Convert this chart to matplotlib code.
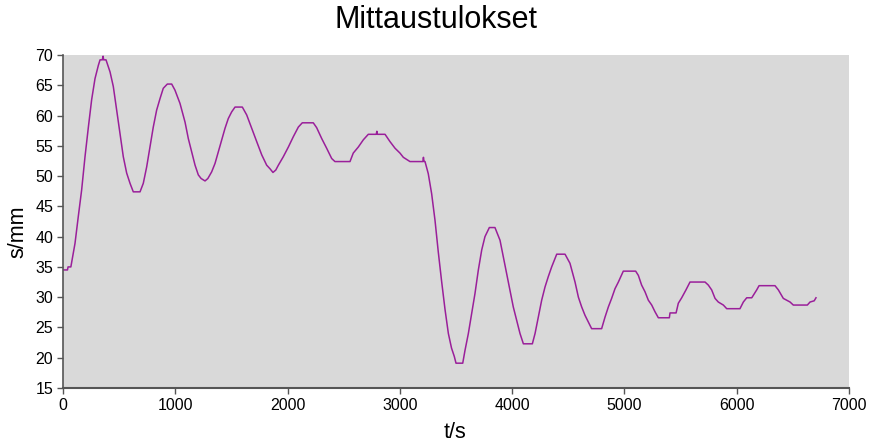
import matplotlib
matplotlib.use("Agg")
import matplotlib.pyplot as plt

plt.rcParams['font.family'] = ['Liberation Sans', 'DejaVu Sans']

t_s = [0, 40, 45, 70, 107, 136, 166, 196, 226, 255, 285, 315, 330, 350, 357, 362, 383,
       419, 448, 478, 508, 537, 567, 597, 626, 686, 715, 745, 775, 804, 834, 864, 893,
       929, 968, 997, 1042, 1087, 1116, 1146, 1176, 1205, 1230, 1265, 1290, 1324, 1354,
       1383, 1413, 1443, 1472, 1502, 1532, 1597, 1636, 1680, 1725, 1770, 1814, 1844,
       1870, 1895, 1918, 1962, 2007, 2051, 2096, 2131, 2229, 2259, 2304, 2348, 2393,
       2422, 2556, 2585, 2630, 2675, 2719, 2790, 2795, 2800, 2868, 2912, 2957, 3001,
       3031, 3090, 3205, 3210, 3215, 3224, 3253, 3283, 3313, 3342, 3372, 3402, 3432,
       3460, 3485, 3500, 3560, 3580, 3610, 3640, 3669, 3699, 3729, 3758, 3797, 3847,
       3892, 3921, 3951, 3981, 4010, 4040, 4070, 4100, 4180, 4204, 4233, 4263, 4293,
       4322, 4352, 4397, 4471, 4515, 4545, 4560, 4590, 4619, 4649, 4678, 4708, 4797,
       4827, 4857, 4886, 4916, 4946, 4990, 5100, 5124, 5153, 5183, 5213, 5243, 5272,
       5302, 5400, 5406, 5460, 5480, 5510, 5548, 5584, 5718, 5747, 5777, 5807, 5836,
       5881, 5911, 6029, 6059, 6089, 6134, 6178, 6199, 6341, 6371, 6415, 6475, 6504,
       6629, 6653, 6690, 6706]
s_mm = [34.5, 34.5, 35.0, 35.0, 38.9, 43.3, 47.7, 53.2, 58.1, 62.6, 66.1, 68.3, 69.2, 69.2, 69.8, 69.2, 69.2,
        67.2, 64.8, 60.9, 57.1, 53.2, 50.5, 48.8, 47.4, 47.4, 48.8, 51.5, 54.8, 58.1, 60.9, 62.8, 64.5,
        65.2, 65.2, 64.2, 62.0, 58.9, 56.2, 54.0, 51.8, 50.2, 49.6, 49.2, 49.6, 50.7, 52.1,
        54.0, 56.0, 57.9, 59.5, 60.6, 61.4, 61.4, 60.1, 57.9, 55.7, 53.5, 51.8, 51.2,
        50.6, 51.0, 51.8, 53.2, 54.8, 56.5, 58.1, 58.8, 58.8, 58.0, 56.2, 54.6, 52.9,
        52.4, 52.4, 53.8, 54.8, 56.0, 56.9, 56.9, 57.4, 56.9, 56.9, 55.7, 54.6, 53.8,
        53.1, 52.4, 52.4, 53.1, 52.4, 52.4, 50.4, 47.1, 42.7, 37.5, 32.6, 28.0, 24.0,
        21.6, 20.2, 19.1, 19.1, 21.2, 24.0, 27.3, 30.6, 34.5, 37.8, 40.0, 41.5, 41.5,
        39.4, 36.7, 33.9, 31.2, 28.4, 26.2, 24.0, 22.3, 22.3, 24.0, 26.7, 29.5, 31.7,
        33.4, 35.0, 37.1, 37.1, 35.6, 33.5, 32.5, 30.0, 28.4, 27.0, 25.9, 24.8, 24.8,
        26.7, 28.4, 29.8, 31.4, 32.5, 34.3, 34.3, 33.6, 32.0, 30.9, 29.5, 28.7, 27.6,
        26.6, 26.6, 27.4, 27.4, 29.0, 29.9, 31.2, 32.5, 32.5, 32.0, 31.2, 29.8, 29.2,
        28.7, 28.1, 28.1, 29.2, 29.9, 29.9, 31.2, 31.9, 31.9, 31.2, 29.8, 29.2, 28.7,
        28.7, 29.2, 29.4, 29.9]

x_ticks = [0, 1000, 2000, 3000, 4000, 5000, 6000, 7000]
y_ticks = [15, 20, 25, 30, 35, 40, 45, 50, 55, 60, 65, 70]

fig = plt.figure(figsize=(8.69, 4.45), dpi=100)
ax = fig.add_axes([63 / 869, 1 - 388 / 445, 786 / 869, 333 / 445])
ax.set_facecolor('#d9d9d9')

ax.plot(t_s, s_mm, color='#9a1f9a', lw=1.1)

ax.set_xlim(0, 7000)
ax.set_ylim(15, 70)
ax.set_xticks(x_ticks)
ax.set_yticks(y_ticks)
ax.tick_params(labelsize=11.5, length=4, width=1, color='#555555', pad=3)

for side in ['top', 'right']:
    ax.spines[side].set_visible(False)
ax.spines['left'].set_color('#555555')
ax.spines['bottom'].set_color('#555555')
ax.spines['left'].set_linewidth(1.2)
ax.spines['bottom'].set_linewidth(1.5)

fig.text(0.502, 0.955, 'Mittaustulokset', ha='center', va='center', fontsize=22)
fig.text(455 / 869, 1 - 433 / 445, 't/s', ha='center', va='center', fontsize=15.5)
fig.text(18 / 869, 1 - 232 / 445, 's/mm', ha='center', va='center', fontsize=15.5, rotation=90)

plt.savefig('out.png', dpi=100)
